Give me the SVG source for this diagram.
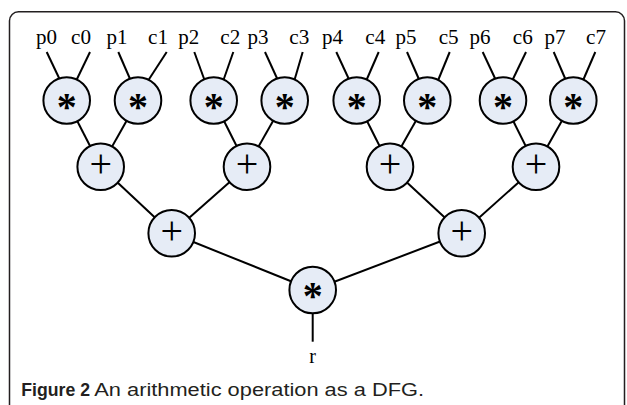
<svg xmlns="http://www.w3.org/2000/svg" width="627" height="405" viewBox="0 0 627 405">
<style>
.frame{fill:none;stroke:#231f20;stroke-width:1.5}
.edge{stroke:#000;stroke-width:2;fill:none}
.node{fill:#e6ecf6;stroke:#000;stroke-width:2}
.lbl{font-family:"Liberation Serif","Times New Roman",serif;font-size:20px;fill:#000;text-anchor:middle}
.mul{font-family:"Liberation Serif","Times New Roman",serif;font-size:40px;font-weight:bold;fill:#000;text-anchor:middle}
.add{font-family:"Liberation Serif","Times New Roman",serif;font-size:40px;fill:#000;text-anchor:middle}
.cap{font-family:"Liberation Sans",Arial,sans-serif;font-size:17.5px;fill:#231f20}
</style>
<rect class="frame" x="9.5" y="11.8" width="615" height="430" rx="9"/>
<g id="labels">
<text class="lbl" x="46.5" y="43.5" textLength="21" lengthAdjust="spacingAndGlyphs">p0</text>
<text class="lbl" x="81" y="43.5" textLength="20" lengthAdjust="spacingAndGlyphs">c0</text>
<text class="lbl" x="117" y="43.5" textLength="21" lengthAdjust="spacingAndGlyphs">p1</text>
<text class="lbl" x="158" y="43.5" textLength="20" lengthAdjust="spacingAndGlyphs">c1</text>
<text class="lbl" x="188.8" y="43.5" textLength="21" lengthAdjust="spacingAndGlyphs">p2</text>
<text class="lbl" x="230.3" y="43.5" textLength="20" lengthAdjust="spacingAndGlyphs">c2</text>
<text class="lbl" x="258" y="43.5" textLength="21" lengthAdjust="spacingAndGlyphs">p3</text>
<text class="lbl" x="299.3" y="43.5" textLength="20" lengthAdjust="spacingAndGlyphs">c3</text>
<text class="lbl" x="332.5" y="43.5" textLength="21" lengthAdjust="spacingAndGlyphs">p4</text>
<text class="lbl" x="375.3" y="43.5" textLength="20" lengthAdjust="spacingAndGlyphs">c4</text>
<text class="lbl" x="406" y="43.5" textLength="21" lengthAdjust="spacingAndGlyphs">p5</text>
<text class="lbl" x="448.7" y="43.5" textLength="20" lengthAdjust="spacingAndGlyphs">c5</text>
<text class="lbl" x="480" y="43.5" textLength="21" lengthAdjust="spacingAndGlyphs">p6</text>
<text class="lbl" x="522.8" y="43.5" textLength="20" lengthAdjust="spacingAndGlyphs">c6</text>
<text class="lbl" x="555" y="43.5" textLength="21" lengthAdjust="spacingAndGlyphs">p7</text>
<text class="lbl" x="596" y="43.5" textLength="20" lengthAdjust="spacingAndGlyphs">c7</text>
</g>
<g id="connectors">
<line class="edge" x1="46.7" y1="52" x2="60" y2="80"/>
<line class="edge" x1="90" y1="52" x2="76.5" y2="80"/>
<line class="edge" x1="118.3" y1="52" x2="130.5" y2="80"/>
<line class="edge" x1="166.7" y1="52" x2="148.5" y2="80"/>
<line class="edge" x1="194.3" y1="52" x2="204.5" y2="80"/>
<line class="edge" x1="233.3" y1="52" x2="223.5" y2="80"/>
<line class="edge" x1="265" y1="52" x2="277.8" y2="80"/>
<line class="edge" x1="302.7" y1="52" x2="294.5" y2="80"/>
<line class="edge" x1="336.3" y1="52" x2="349.3" y2="80"/>
<line class="edge" x1="378.7" y1="52" x2="366.5" y2="80"/>
<line class="edge" x1="407" y1="52" x2="419.3" y2="80"/>
<line class="edge" x1="449.7" y1="52" x2="438.2" y2="80"/>
<line class="edge" x1="482.7" y1="52" x2="495.8" y2="80"/>
<line class="edge" x1="526" y1="52" x2="512.5" y2="80"/>
<line class="edge" x1="553.7" y1="52" x2="565.8" y2="80"/>
<line class="edge" x1="595.3" y1="52" x2="583.2" y2="80"/>
<line class="edge" x1="66.7" y1="100.5" x2="100.7" y2="166.7"/>
<line class="edge" x1="138" y1="100.5" x2="100.7" y2="166.7"/>
<line class="edge" x1="213.7" y1="100.5" x2="247" y2="166.7"/>
<line class="edge" x1="284.7" y1="100.5" x2="247" y2="166.7"/>
<line class="edge" x1="356.7" y1="100.5" x2="390" y2="166.7"/>
<line class="edge" x1="427.3" y1="100.5" x2="390" y2="166.7"/>
<line class="edge" x1="503" y1="100.5" x2="536" y2="166.7"/>
<line class="edge" x1="573.3" y1="100.5" x2="536" y2="166.7"/>
<line class="edge" x1="100.7" y1="166.7" x2="171.7" y2="233.3"/>
<line class="edge" x1="247" y1="166.7" x2="171.7" y2="233.3"/>
<line class="edge" x1="390" y1="166.7" x2="461.7" y2="233.3"/>
<line class="edge" x1="536" y1="166.7" x2="461.7" y2="233.3"/>
<line class="edge" x1="171.7" y1="233.3" x2="312.7" y2="290"/>
<line class="edge" x1="461.7" y1="233.3" x2="312.7" y2="290"/>
<line class="edge" x1="312.7" y1="290" x2="312.7" y2="341.7"/>
</g>
<g id="m0"><circle class="node" cx="66.7" cy="100.5" r="23.3"/><text class="mul" x="66.7" y="119.5">*</text></g>
<g id="m1"><circle class="node" cx="138" cy="100.5" r="23.3"/><text class="mul" x="138" y="119.5">*</text></g>
<g id="m2"><circle class="node" cx="213.7" cy="100.5" r="23.3"/><text class="mul" x="213.7" y="119.5">*</text></g>
<g id="m3"><circle class="node" cx="284.7" cy="100.5" r="23.3"/><text class="mul" x="284.7" y="119.5">*</text></g>
<g id="m4"><circle class="node" cx="356.7" cy="100.5" r="23.3"/><text class="mul" x="356.7" y="119.5">*</text></g>
<g id="m5"><circle class="node" cx="427.3" cy="100.5" r="23.3"/><text class="mul" x="427.3" y="119.5">*</text></g>
<g id="m6"><circle class="node" cx="503" cy="100.5" r="23.3"/><text class="mul" x="503" y="119.5">*</text></g>
<g id="m7"><circle class="node" cx="573.3" cy="100.5" r="23.3"/><text class="mul" x="573.3" y="119.5">*</text></g>
<g id="a0"><circle class="node" cx="100.7" cy="166.7" r="23.3"/><text class="add" x="100.7" y="177">+</text></g>
<g id="a1"><circle class="node" cx="247" cy="166.7" r="23.3"/><text class="add" x="247" y="177">+</text></g>
<g id="a2"><circle class="node" cx="390" cy="166.7" r="23.3"/><text class="add" x="390" y="177">+</text></g>
<g id="a3"><circle class="node" cx="536" cy="166.7" r="23.3"/><text class="add" x="536" y="177">+</text></g>
<g id="a4"><circle class="node" cx="171.7" cy="233.3" r="23.3"/><text class="add" x="171.7" y="243.6">+</text></g>
<g id="a5"><circle class="node" cx="461.7" cy="233.3" r="23.3"/><text class="add" x="461.7" y="243.6">+</text></g>
<g id="root"><circle class="node" cx="312.7" cy="290" r="23.3"/><text class="mul" x="312.7" y="309">*</text></g>
<g id="out"><text class="lbl" x="312.7" y="363">r</text></g>
<text class="cap" y="395.5"><tspan x="21.3" font-weight="bold" textLength="68.7" lengthAdjust="spacingAndGlyphs">Figure 2</tspan><tspan x="94.3" textLength="329.7" lengthAdjust="spacingAndGlyphs">An arithmetic operation as a DFG.</tspan></text>
</svg>
